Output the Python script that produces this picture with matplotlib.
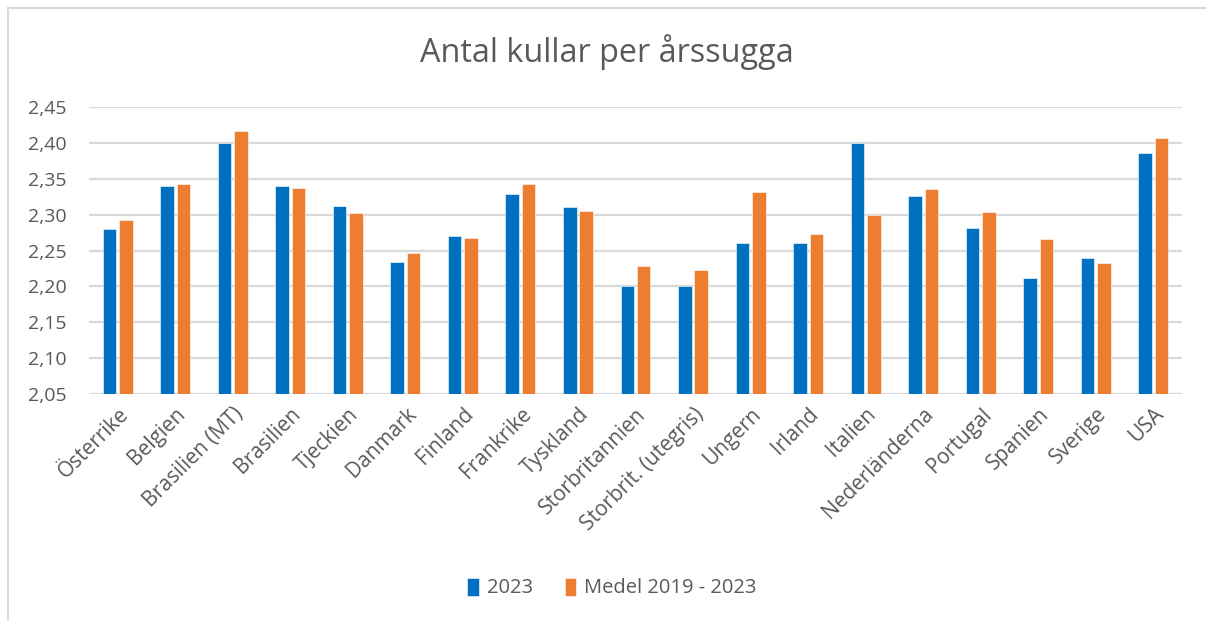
import numpy as np
import matplotlib
matplotlib.use("Agg")
import matplotlib.pyplot as plt
from matplotlib.lines import Line2D

# data
countries = ['Österrike', 'Belgien', 'Brasilien (MT)', 'Brasilien', 'Tjeckien',
             'Danmark', 'Finland', 'Frankrike', 'Tyskland', 'Storbritannien',
             'Storbrit. (utegris)', 'Ungern', 'Irland', 'Italien', 'Nederländerna',
             'Portugal', 'Spanien', 'Sverige', 'USA']
values_2023 = [2.280, 2.340, 2.400, 2.340, 2.312, 2.234, 2.270, 2.329, 2.310, 2.200,
               2.200, 2.260, 2.260, 2.400, 2.326, 2.281, 2.211, 2.240, 2.386]
values_medel = [2.292, 2.343, 2.417, 2.337, 2.302, 2.246, 2.267, 2.342, 2.305, 2.228,
                2.223, 2.331, 2.273, 2.300, 2.336, 2.304, 2.266, 2.233, 2.407]
series_names = ['2023', 'Medel 2019 - 2023']
y_ticks = [2.05, 2.10, 2.15, 2.20, 2.25, 2.30, 2.35, 2.40, 2.45]

plt.rcParams['font.family'] = ['Open Sans', 'DejaVu Sans']
blue = '#0070C0'
orange = '#ED7D31'
text_col = '#595959'

fig = plt.figure(figsize=(12.06, 6.21), dpi=100)
ax = fig.add_axes([89 / 1206, 1 - 394 / 621, (1182 - 89) / 1206, (394 - 107) / 621])

x = np.arange(len(countries))
w = 0.235
ax.bar(x - 0.143, np.array(values_2023) - 2.05, w, bottom=2.05, color=blue,
       edgecolor='white', linewidth=0.4, label=series_names[0], zorder=3)
ax.bar(x + 0.143, np.array(values_medel) - 2.05, w, bottom=2.05, color=orange,
       edgecolor='white', linewidth=0.4, label=series_names[1], zorder=3)

ax.set_xlim(-0.5, len(countries) - 0.5)
ax.set_ylim(2.05, 2.45)
ax.set_yticks(y_ticks)
ax.set_yticklabels([f'{v:.2f}'.replace('.', ',') for v in y_ticks],
                   fontsize=14, color=text_col)
ax.set_xticks(x)
ax.set_xticklabels(countries, rotation=45, ha='right', rotation_mode='anchor',
                   fontsize=15, color=text_col)
ax.tick_params(axis='y', length=0, pad=16)
ax.tick_params(axis='x', length=0, pad=7)
ax.grid(axis='y', color='#D9D9D9', linewidth=1.6, zorder=0)
for s in ax.spines.values():
    s.set_visible(False)

fig.suptitle('Antal kullar per årssugga', x=(420 + 793) / 2 / 1206, y=1 - 52 / 621,
             va='center', fontsize=23.3, color=text_col)

fig.legend(loc='center', bbox_to_anchor=(612 / 1206, 1 - 588 / 621), ncol=2,
           frameon=False, fontsize=14.5, labelcolor=text_col,
           handlelength=0.55, handleheight=1.0, handletextpad=0.4, columnspacing=1.6)

# outer chart border (top and left edges visible)
fig.add_artist(Line2D([7.5 / 1206, 7.5 / 1206], [0, 1 - 8 / 621],
                      transform=fig.transFigure, color='#D9D9D9', linewidth=1.5))
fig.add_artist(Line2D([7.5 / 1206, 1], [1 - 8 / 621, 1 - 8 / 621],
                      transform=fig.transFigure, color='#D9D9D9', linewidth=1.5))

fig.savefig('out.png', dpi=100, facecolor='white')
